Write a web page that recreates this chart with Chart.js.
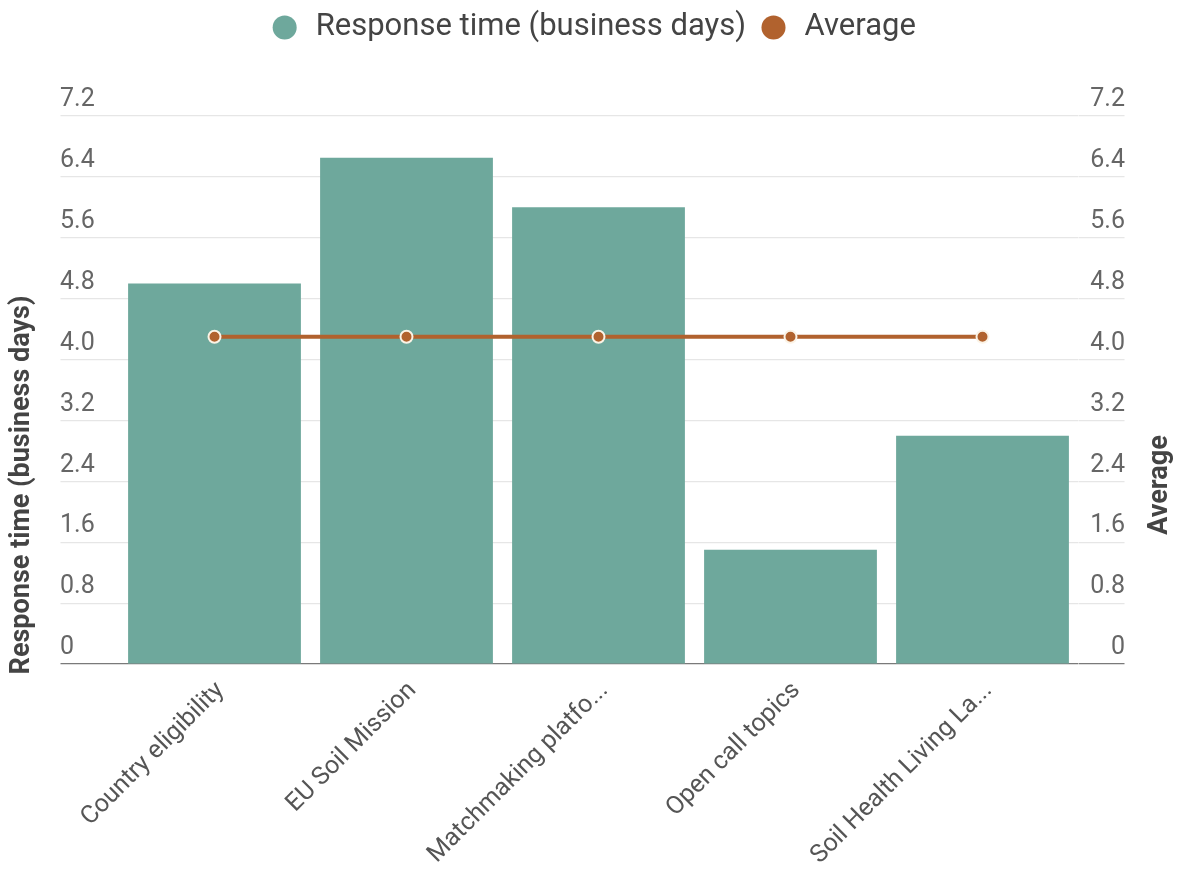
<!DOCTYPE html>
<html>
<head>
<meta charset="utf-8">
<script src="https://cdn.jsdelivr.net/npm/chart.js@4.4.1/dist/chart.umd.min.js"></script>
<style>
  html, body { margin: 0; padding: 0; background: #fff; }
  #wrap { width: 1183px; height: 885px; position: relative; }
</style>
</head>
<body>
<div id="wrap"><canvas id="respChart"></canvas></div>
<script>
// categories and values
const topics = ["Country eligibility", "EU Soil Mission", "Matchmaking platfo...", "Open call topics", "Soil Health Living La..."];
const responseDays = [5.0, 6.65, 6.0, 1.5, 3.0];
const averageDays = [4.3, 4.3, 4.3, 4.3, 4.3];
const yTicks = [0, 0.8, 1.6, 2.4, 3.2, 4.0, 4.8, 5.6, 6.4, 7.2];

const barColor = "#6ea89c";
const lineColor = "#b1622e";
const gridColor = (c) => c.tick && c.tick.value === 0 ? "#7a7a7a" : "#e6e6e6";
const fmt = (v) => v === 0 ? "0" : v.toFixed(1);

// rotated axis titles, drawn outside the tick label area
const axisTitles = {
  id: "axisTitles",
  afterDraw(chart) {
    const ctx = chart.ctx;
    const draw = (text, x, y) => {
      ctx.save();
      ctx.fillStyle = "#444";
      ctx.font = "bold 27px Roboto";
      ctx.textAlign = "center";
      ctx.textBaseline = "middle";
      ctx.translate(x, y);
      ctx.rotate(-Math.PI / 2);
      ctx.fillText(text, 0, 0);
      ctx.restore();
    };
    draw("Response time (business days)", 22, 485);
    draw("Average", 1160, 485);
  }
};

// make the legend box taller so the plot starts lower
const legendSpace = {
  id: "legendSpace",
  beforeInit(chart) {
    const fit = chart.legend.fit;
    chart.legend.fit = function () {
      fit.call(this);
      this.height = 116;
    };
  }
};

new Chart(document.getElementById("respChart").getContext("2d"), {
  data: {
    labels: topics,
    datasets: [
      {
        type: "bar",
        label: "Response time (business days)",
        data: responseDays,
        backgroundColor: barColor,
        borderColor: barColor,
        borderWidth: 0,
        barPercentage: 1.0,
        categoryPercentage: 0.9,
        yAxisID: "y",
        order: 2
      },
      {
        type: "line",
        label: "Average",
        data: averageDays,
        borderColor: lineColor,
        backgroundColor: lineColor,
        borderWidth: 4,
        pointRadius: 6,
        pointBorderWidth: 2,
        pointBackgroundColor: lineColor,
        pointBorderColor: "#fbf3e6",
        pointStyle: "circle",
        tension: 0,
        yAxisID: "y1",
        order: 1
      }
    ]
  },
  options: {
    responsive: true,
    maintainAspectRatio: false,
    animation: false,
    layout: { padding: { left: 60, right: 58, top: 0, bottom: 0 } },
    plugins: {
      tooltip: { enabled: false },
      legend: {
        position: "top",
        labels: {
          usePointStyle: true,
          pointStyle: "circle",
          boxHeight: 17,
          color: "#444",
          font: { family: "Roboto", size: 31 },
          padding: 12,
          sort: (a, b) => a.datasetIndex - b.datasetIndex,
          generateLabels: (chart) => {
            const items = Chart.defaults.plugins.legend.labels.generateLabels(chart);
            items.forEach(it => { it.strokeStyle = it.fillStyle; it.lineWidth = 0; });
            return items;
          }
        }
      }
    },
    scales: {
      x: {
        afterFit: (s) => { s.height = 221; },
        grid: { display: false },
        border: { display: false },
        ticks: {
          color: "#555",
          font: { family: "Roboto", size: 25 },
          maxRotation: 45,
          minRotation: 45,
          labelOffset: 6,
          padding: 4
        }
      },
      y: {
        position: "left",
        min: 0,
        max: 7.2,
        afterBuildTicks: (s) => { s.ticks = yTicks.map(v => ({ value: v })); },
        afterFit: (s) => { s.width = 58.5; },
        grid: { color: gridColor, tickLength: 58, lineWidth: 1.2 },
        border: { display: false },
        ticks: {
          crossAlign: "far",
          labelOffset: -16,
          color: "#666",
          font: { family: "Roboto", size: 25 },
          callback: fmt
        }
      },
      y1: {
        position: "right",
        min: 0,
        max: 7.2,
        afterBuildTicks: (s) => { s.ticks = yTicks.map(v => ({ value: v })); },
        afterFit: (s) => { s.width = 46.5; },
        grid: { color: gridColor, tickLength: 46, lineWidth: 1.2, drawOnChartArea: false },
        border: { display: false },
        ticks: {
          crossAlign: "far",
          labelOffset: -16,
          color: "#666",
          font: { family: "Roboto", size: 25 },
          callback: fmt
        }
      }
    }
  },
  plugins: [axisTitles, legendSpace]
});
</script>
</body>
</html>
